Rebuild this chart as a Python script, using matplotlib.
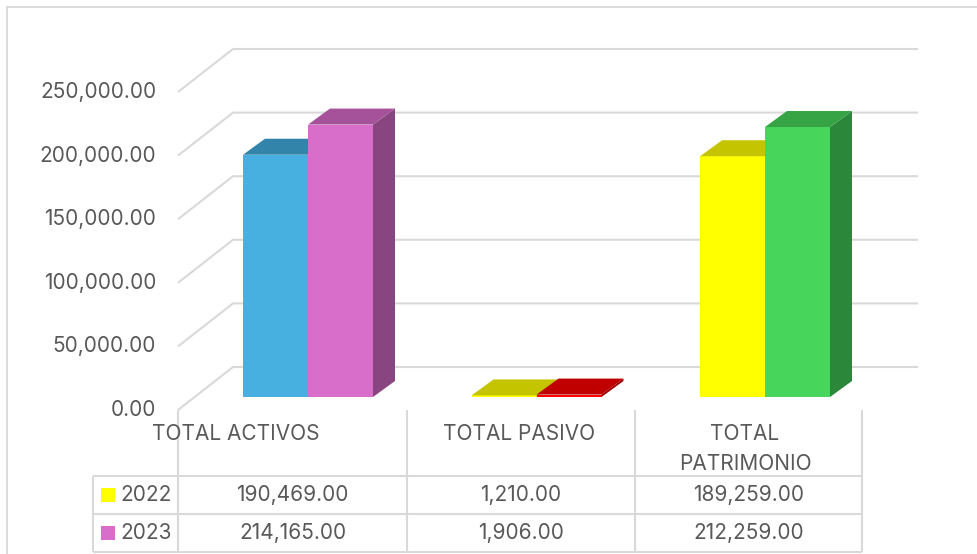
import matplotlib
matplotlib.use("Agg")
import matplotlib.pyplot as plt
from matplotlib.patches import Polygon, Rectangle
from matplotlib.lines import Line2D

# ---------------- data ----------------
categories = ["TOTAL ACTIVOS", "TOTAL PASIVO", "TOTAL\nPATRIMONIO"]
series_names = ["2022", "2023"]
values_2022 = [190469.00, 1210.00, 189259.00]
values_2023 = [214165.00, 1906.00, 212259.00]
yticks = [0, 50000, 100000, 150000, 200000, 250000]

front_2022 = ['#47B0E0', '#FFFF00', '#FFFF00']
top_2022 = ['#3384AA', '#C4C400', '#C4C400']
side_2022 = ['#2B6F90', '#A5A500', '#A5A500']
front_2023 = ['#D86ECA', '#FF0000', '#47D65B']
top_2023 = ['#A5529B', '#C00000', '#36A345']
side_2023 = ['#88457F', '#9A0000', '#2B883A']
legend_colors = ['#FFFF00', '#D86ECA']

TXT = '#595959'
GRID = '#D9D9D9'
FONT = ['Inter', 'DejaVu Sans']
FS = 15

# ---------------- figure / scales ----------------
W, H, DPI = 978, 554, 100
fig = plt.figure(figsize=(W / DPI, H / DPI), dpi=DPI)
ax = fig.add_axes([0, 0, 1, 1])
PXC = 228.5     # pixels per category step
X0 = 308.0      # pixel x of first category centre
YS = 0.001272   # pixels per value unit
Y0 = 397.0      # pixel y (top-down) of value 0 at bar front
ax.set_xlim(-X0 / PXC, (W - X0) / PXC)
ax.set_ylim(-(H - Y0) / YS, Y0 / YS)
ax.axis('off')


def px2x(px):
    return (px - X0) / PXC


def dpx(px):
    return px / PXC


def dpy(py):
    return py / YS


def fx(px):
    return px / W


def fy(py):
    return 1 - py / H


# outer chart border
fig.add_artist(Rectangle((fx(7), fy(560)), fx(980) - fx(7), fy(7) - fy(560),
                         transform=fig.transFigure, fill=False,
                         edgecolor=GRID, lw=1.3))

# ---------------- gridlines (side wall + back wall) ----------------
FRONT_DY, BACK_DY = 13, 30
for v in yticks:
    xs = [px2x(178), px2x(233), px2x(918)]
    ys = [v - dpy(FRONT_DY), v + dpy(BACK_DY), v + dpy(BACK_DY)]
    ax.plot(xs, ys, color=GRID, lw=1.5, solid_capstyle='butt', zorder=1)
    ax.text(px2x(156), v - dpy(FRONT_DY), f"{v:,.2f}", ha='right', va='center',
            color=TXT, fontsize=FS, family=FONT)

# ---------------- 3D bars ----------------
bw = dpx(65)
ddx, ddy = dpx(22), dpy(16)
xc = list(range(len(categories)))


def draw_bar(x_left, v, cf, ct, cs, z):
    rect = ax.bar(x_left, v, width=bw, align='edge', color=cf, lw=0, zorder=z)[0]
    x0 = rect.get_x()
    x1 = x0 + rect.get_width()
    h = rect.get_height()
    top = Polygon([(x0, h), (x1, h), (x1 + ddx, h + ddy), (x0 + ddx, h + ddy)],
                  closed=True, facecolor=ct, lw=0, zorder=z)
    side = Polygon([(x1, 0), (x1, h), (x1 + ddx, h + ddy), (x1 + ddx, ddy)],
                   closed=True, facecolor=cs, lw=0, zorder=z)
    ax.add_patch(side)
    ax.add_patch(top)


for i in xc:
    draw_bar(i - bw, values_2022[i], front_2022[i], top_2022[i], side_2022[i], 3 + 2 * i)
    draw_bar(i, values_2023[i], front_2023[i], top_2023[i], side_2023[i], 4 + 2 * i)

# ---------------- data table ----------------
col_x = [178, 407, 635, 862]
row_y = [476, 514, 552]
leg_x = 93


def fline(x1, y1, x2, y2):
    fig.add_artist(Line2D([fx(x1), fx(x2)], [fy(y1), fy(y2)], transform=fig.transFigure,
                          color=GRID, lw=1.5, solid_capstyle='butt'))


for y in row_y:
    fline(leg_x, y, col_x[-1], y)
fline(leg_x, row_y[0], leg_x, row_y[-1])
for x in col_x:
    fline(x, 410, x, row_y[-1])

cat_label_x = [236, 519, 745]
for lab, lx in zip(categories, cat_label_x):
    for k, line in enumerate(lab.split("\n")):
        fig.text(fx(lx), fy(432.5 + 29 * k), line, ha='center', va='center_baseline',
                 color=TXT, fontsize=FS, family=FONT)

for r, (name, vals, lc) in enumerate(zip(series_names, [values_2022, values_2023], legend_colors)):
    yc = (row_y[r] + row_y[r + 1]) / 2
    fig.add_artist(Rectangle((fx(101), fy(yc + 7)), fx(14), 14 / H,
                             transform=fig.transFigure, facecolor=lc, lw=0))
    fig.text(fx(120), fy(yc), name, ha='left', va='center', color=TXT,
             fontsize=FS, family=FONT)
    for c, v in enumerate(vals):
        cx = (col_x[c] + col_x[c + 1]) / 2
        fig.text(fx(cx), fy(yc), f"{v:,.2f}", ha='center', va='center', color=TXT,
                 fontsize=FS, family=FONT)

fig.savefig("out.png", dpi=DPI)
